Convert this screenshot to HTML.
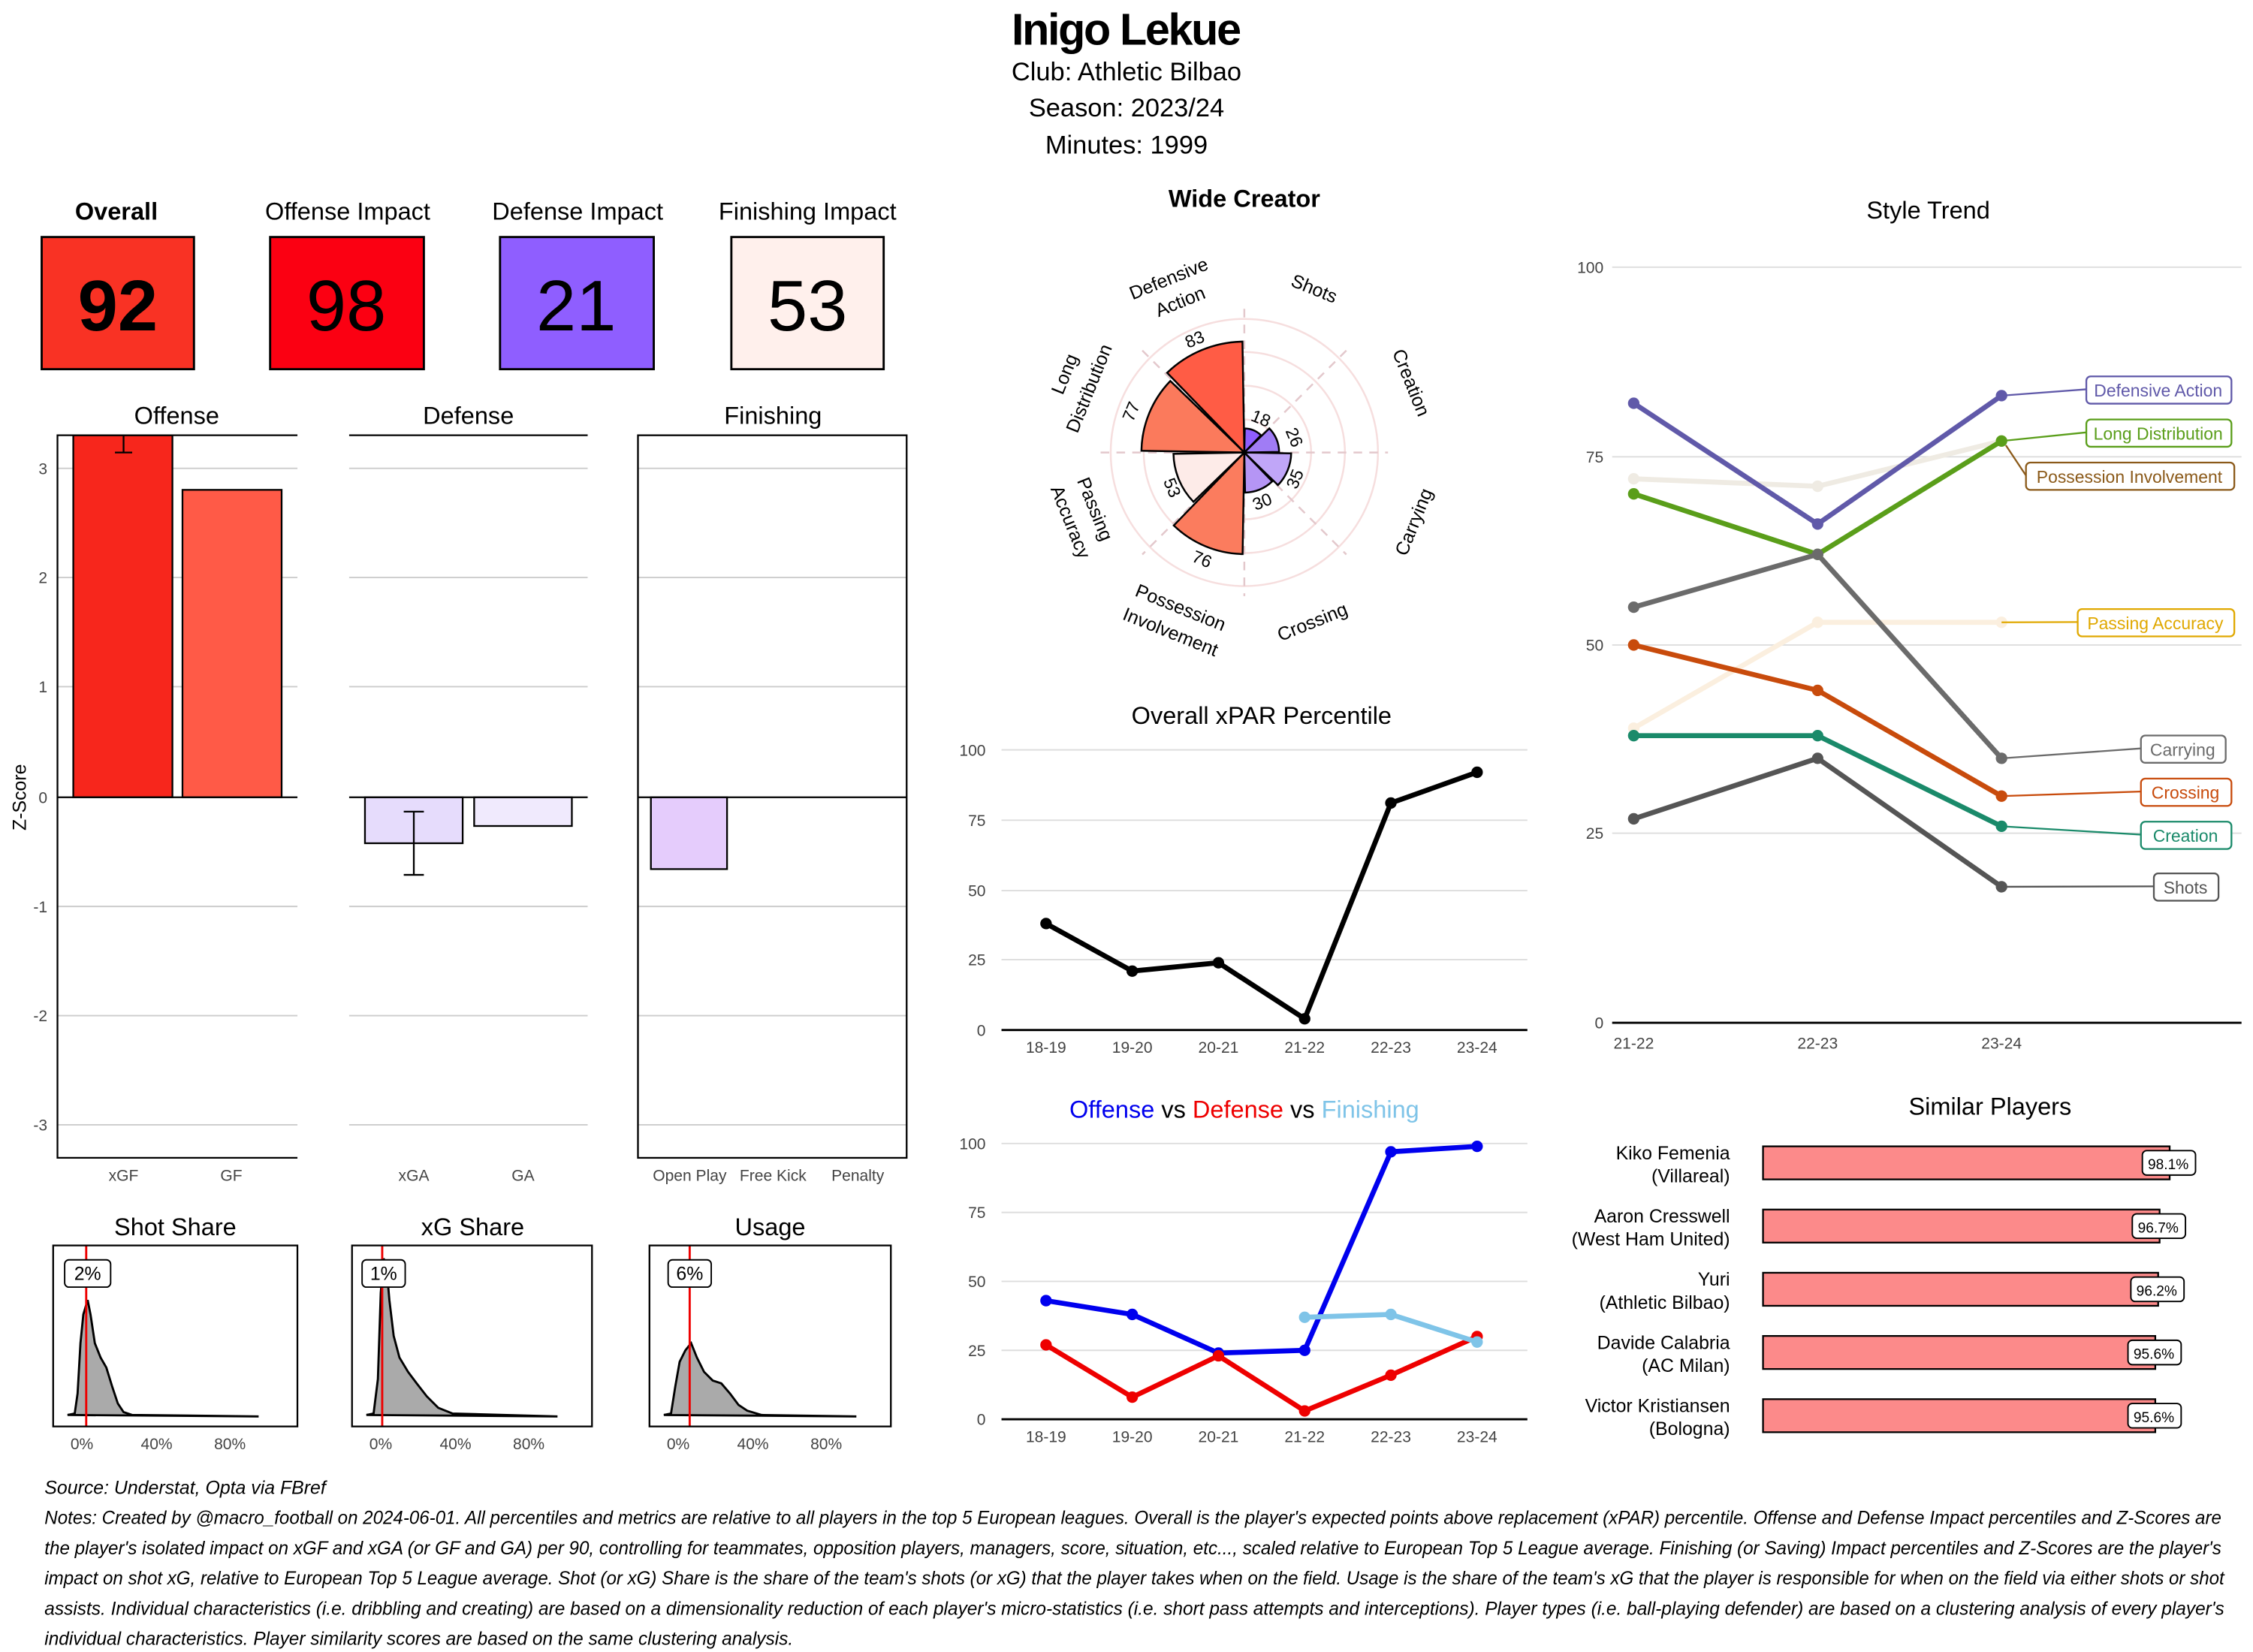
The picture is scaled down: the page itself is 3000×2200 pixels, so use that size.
<!DOCTYPE html>
<html><head><meta charset="utf-8"><style>
html,body{margin:0;padding:0;background:#fff;}
svg{display:block;}
text{font-family:"Liberation Sans",sans-serif;}
</style></head><body>
<svg width="3000" height="2200" viewBox="0 0 1568 1150" preserveAspectRatio="none" xmlns="http://www.w3.org/2000/svg">
<rect width="1568" height="1150" fill="#fff"/>
<!-- Title -->
<text x="784" y="31" text-anchor="middle" font-size="31" font-weight="bold" textLength="160">Inigo Lekue</text>
<text x="784" y="56" text-anchor="middle" font-size="18">Club:  Athletic Bilbao</text>
<text x="784" y="81" text-anchor="middle" font-size="18">Season:  2023/24</text>
<text x="784" y="107" text-anchor="middle" font-size="18">Minutes:  1999</text>

<!-- KPI -->
<g font-size="17" text-anchor="middle">
<text x="81" y="153" font-weight="bold">Overall</text>
<text x="242" y="153">Offense Impact</text>
<text x="402" y="153">Defense Impact</text>
<text x="562" y="153">Finishing Impact</text>
</g>
<rect x="29" y="165" width="106" height="92" fill="#f93224" stroke="#000" stroke-width="1.5"/>
<rect x="188" y="165" width="107" height="92" fill="#fb0012" stroke="#000" stroke-width="1.5"/>
<rect x="348" y="165" width="107" height="92" fill="#8f5eff" stroke="#000" stroke-width="1.5"/>
<rect x="509" y="165" width="106" height="92" fill="#fff0ec" stroke="#000" stroke-width="1.5"/>
<g font-size="50" text-anchor="middle">
<text x="82" y="230" font-weight="bold">92</text>
<text x="241" y="230">98</text>
<text x="401" y="230">21</text>
<text x="562" y="230">53</text>
</g>

<!-- Z-score panels -->
<g font-size="17" text-anchor="middle">
<text x="123" y="295">Offense</text>
<text x="326" y="295">Defense</text>
<text x="538" y="295">Finishing</text>
</g>
<g stroke="#ccc" stroke-width="1">
<line x1="40" x2="207" y1="326" y2="326"/><line x1="40" x2="207" y1="402" y2="402"/><line x1="40" x2="207" y1="478" y2="478"/><line x1="40" x2="207" y1="631" y2="631"/><line x1="40" x2="207" y1="707" y2="707"/><line x1="40" x2="207" y1="783" y2="783"/>
<line x1="243" x2="409" y1="326" y2="326"/><line x1="243" x2="409" y1="402" y2="402"/><line x1="243" x2="409" y1="478" y2="478"/><line x1="243" x2="409" y1="631" y2="631"/><line x1="243" x2="409" y1="707" y2="707"/><line x1="243" x2="409" y1="783" y2="783"/>
<line x1="444" x2="631" y1="326" y2="326"/><line x1="444" x2="631" y1="402" y2="402"/><line x1="444" x2="631" y1="478" y2="478"/><line x1="444" x2="631" y1="631" y2="631"/><line x1="444" x2="631" y1="707" y2="707"/><line x1="444" x2="631" y1="783" y2="783"/>
</g>
<g font-size="11" fill="#444" text-anchor="end">
<text x="33" y="330">3</text><text x="33" y="406">2</text><text x="33" y="482">1</text><text x="33" y="559">0</text><text x="33" y="635">-1</text><text x="33" y="711">-2</text><text x="33" y="787">-3</text>
</g>
<text transform="translate(18,555) rotate(-90)" font-size="13" text-anchor="middle">Z-Score</text>
<rect x="51" y="303" width="69" height="252" fill="#f7261c" stroke="#000" stroke-width="1.2"/>
<rect x="127" y="341" width="69" height="214" fill="#ff5a47" stroke="#000" stroke-width="1.2"/>
<path d="M86 303V315M80 315H92" stroke="#000" stroke-width="1.2"/>
<rect x="254" y="555" width="68" height="32" fill="#e6dcfc" stroke="#000" stroke-width="1.2"/>
<rect x="330" y="555" width="68" height="20" fill="#f0eafd" stroke="#000" stroke-width="1.2"/>
<path d="M288 565V609M281 565H295M281 609H295" stroke="#000" stroke-width="1.2"/>
<rect x="453" y="555" width="53" height="50" fill="#e5ccfc" stroke="#000" stroke-width="1.2"/>
<g stroke="#000" stroke-width="1.2" fill="none">
<line x1="40" x2="207" y1="555" y2="555"/><line x1="243" x2="409" y1="555" y2="555"/><line x1="444" x2="631" y1="555" y2="555"/>
<path d="M207 303H40V806H207"/>
<path d="M243 303H409"/>
<rect x="444" y="303" width="187" height="503"/>
</g>
<g font-size="11" fill="#444" text-anchor="middle">
<text x="86" y="822">xGF</text><text x="161" y="822">GF</text>
<text x="288" y="822">xGA</text><text x="364" y="822">GA</text>
<text x="480" y="822">Open Play</text><text x="538" y="822">Free Kick</text><text x="597" y="822">Penalty</text>
</g>

<!-- Distributions -->
<g font-size="17" text-anchor="middle">
<text x="122" y="860">Shot Share</text><text x="329" y="860">xG Share</text><text x="536" y="860">Usage</text>
</g>
<g fill="#aaa" stroke="#000" stroke-width="1.5">
<path d="M47,985 L52,984 L54,970 L56,935 L58,915 L61,905 L63,915 L66,935 L70,945 L74,952 L78,965 L82,977 L86,983 L92,985 L180,986 Z"/>
<path d="M255,985 L260,984 L263,960 L265,900 L267,876 L269,882 L271,905 L274,930 L278,945 L284,955 L290,963 L297,972 L305,980 L315,984 L388,986 Z"/>
<path d="M462,985 L467,984 L470,965 L473,948 L477,940 L481,935 L485,945 L490,955 L496,961 L502,963 L508,970 L514,978 L520,982 L530,985 L596,986 Z"/>
</g>
<g stroke="#e00" stroke-width="1.5">
<line x1="60" x2="60" y1="867" y2="993"/><line x1="266" x2="266" y1="867" y2="993"/><line x1="480" x2="480" y1="867" y2="993"/>
</g>
<g fill="none" stroke="#000" stroke-width="1.2">
<rect x="37" y="867" width="170" height="126"/><rect x="245" y="867" width="167" height="126"/><rect x="452" y="867" width="168" height="126"/>
</g>
<g fill="#fff" stroke="#000" stroke-width="1">
<rect x="45" y="877" width="32" height="19" rx="3"/><rect x="252" y="877" width="30" height="19" rx="3"/><rect x="465" y="877" width="30" height="19" rx="3"/>
</g>
<g font-size="13" text-anchor="middle">
<text x="61" y="891">2%</text><text x="267" y="891">1%</text><text x="480" y="891">6%</text>
</g>
<g font-size="11" fill="#444" text-anchor="middle">
<text x="57" y="1009">0%</text><text x="109" y="1009">40%</text><text x="160" y="1009">80%</text>
<text x="265" y="1009">0%</text><text x="317" y="1009">40%</text><text x="368" y="1009">80%</text>
<text x="472" y="1009">0%</text><text x="524" y="1009">40%</text><text x="575" y="1009">80%</text>
</g>

<!-- Polar -->
<text x="866" y="144" text-anchor="middle" font-size="17" font-weight="bold">Wide Creator</text>
<g fill="none" stroke="#f6dede" stroke-width="1.3">
<circle cx="866" cy="315" r="23"/><circle cx="866" cy="315" r="46.5"/><circle cx="866" cy="315" r="70"/><circle cx="866" cy="315" r="93"/>
</g>
<g stroke="#e3c8cc" stroke-width="1.3" stroke-dasharray="6,5">
<line x1="866" y1="215" x2="866" y2="415"/><line x1="766" y1="315" x2="966" y2="315"/>
<line x1="795" y1="244" x2="937" y2="386"/><line x1="937" y1="244" x2="795" y2="386"/>
</g>
<g stroke="#000" stroke-width="1.3">
<path d="M866 315L866.3 298.3A16.7 16.7 0 0 1 877.6 303Z" fill="#8f5eff"/>
<path d="M866 315L883.4 298.2A24.2 24.2 0 0 1 890.2 314.6Z" fill="#a07cf5"/>
<path d="M866 315L898.6 315.6A32.6 32.6 0 0 1 889.4 337.7Z" fill="#c0a6f8"/>
<path d="M866 315L885.4 335.1A27.9 27.9 0 0 1 866.5 342.9Z" fill="#b595f5"/>
<path d="M866 315L864.8 385.7A70.7 70.7 0 0 1 816.9 365.8Z" fill="#fb7c5e"/>
<path d="M866 315L830.6 349.3A49.3 49.3 0 0 1 816.7 315.9Z" fill="#fdebe8"/>
<path d="M866 315L794.4 313.8A71.6 71.6 0 0 1 814.5 265.2Z" fill="#fb7a5c"/>
<path d="M866 315L812.3 259.5A77.2 77.2 0 0 1 864.7 237.8Z" fill="#ff5c45"/>
</g>
<g font-size="12" text-anchor="middle">
<text transform="translate(876,295) rotate(22.5)">18</text>
<text transform="translate(897,306) rotate(67.5)">26</text>
<text transform="translate(905,335) rotate(-67.5)">35</text>
<text transform="translate(880,353) rotate(-22.5)">30</text>
<text transform="translate(835,393) rotate(22.5)">76</text>
<text transform="translate(812,341) rotate(67.5)">53</text>
<text transform="translate(791,288) rotate(-67.5)">77</text>
<text transform="translate(833,240) rotate(-22.5)">83</text>
</g>
<g font-size="13" text-anchor="middle">
<text transform="translate(815,198) rotate(-22)">Defensive</text>
<text transform="translate(823,214) rotate(-22)">Action</text>
<text transform="translate(913,205) rotate(22)">Shots</text>
<text transform="translate(978,268) rotate(68)">Creation</text>
<text transform="translate(988,365) rotate(-68)">Carrying</text>
<text transform="translate(915,437) rotate(-22)">Crossing</text>
<text transform="translate(820,427) rotate(22)">Possession</text>
<text transform="translate(813,444) rotate(22)">Involvement</text>
<text transform="translate(758,356) rotate(68)">Passing</text>
<text transform="translate(741,365) rotate(68)">Accuracy</text>
<text transform="translate(745,262) rotate(-68)">Long</text>
<text transform="translate(762,272) rotate(-68)">Distribution</text>
</g>

<!-- Overall xPAR -->
<text x="878" y="504" text-anchor="middle" font-size="17">Overall xPAR Percentile</text>
<g stroke="#ddd"><line x1="697" x2="1063" y1="522" y2="522"/><line x1="697" x2="1063" y1="571" y2="571"/><line x1="697" x2="1063" y1="620" y2="620"/><line x1="697" x2="1063" y1="668" y2="668"/></g>
<line x1="697" x2="1063" y1="717" y2="717" stroke="#000" stroke-width="1.5"/>
<g font-size="11" fill="#444" text-anchor="end"><text x="686" y="526">100</text><text x="686" y="575">75</text><text x="686" y="624">50</text><text x="686" y="672">25</text><text x="686" y="721">0</text></g>
<g font-size="11" fill="#444" text-anchor="middle"><text x="728" y="733">18-19</text><text x="788" y="733">19-20</text><text x="848" y="733">20-21</text><text x="908" y="733">21-22</text><text x="968" y="733">22-23</text><text x="1028" y="733">23-24</text></g>
<polyline points="728,642.9 788,676 848,670.2 908,709.2 968,559 1028,537.6" fill="none" stroke="#000" stroke-width="3.5"/>
<g fill="#000"><circle cx="728" cy="642.9" r="4"/><circle cx="788" cy="676" r="4"/><circle cx="848" cy="670.2" r="4"/><circle cx="908" cy="709.2" r="4"/><circle cx="968" cy="559" r="4"/><circle cx="1028" cy="537.6" r="4"/></g>

<!-- Offense vs Defense -->
<text x="866" y="778" text-anchor="middle" font-size="17"><tspan fill="#0000ee">Offense</tspan><tspan>  vs  </tspan><tspan fill="#ee0000">Defense</tspan><tspan>  vs  </tspan><tspan fill="#7fc4e8">Finishing</tspan></text>
<g stroke="#ddd"><line x1="697" x2="1063" y1="796" y2="796"/><line x1="697" x2="1063" y1="844" y2="844"/><line x1="697" x2="1063" y1="892" y2="892"/><line x1="697" x2="1063" y1="940" y2="940"/></g>
<line x1="697" x2="1063" y1="988" y2="988" stroke="#000" stroke-width="1.5"/>
<g font-size="11" fill="#444" text-anchor="end"><text x="686" y="800">100</text><text x="686" y="848">75</text><text x="686" y="896">50</text><text x="686" y="944">25</text><text x="686" y="992">0</text></g>
<g font-size="11" fill="#444" text-anchor="middle"><text x="728" y="1004">18-19</text><text x="788" y="1004">19-20</text><text x="848" y="1004">20-21</text><text x="908" y="1004">21-22</text><text x="968" y="1004">22-23</text><text x="1028" y="1004">23-24</text></g>
<polyline points="728,905.4 788,915 848,941.9 908,940 968,801.8 1028,798" fill="none" stroke="#0000ee" stroke-width="3.5"/>
<g fill="#0000ee"><circle cx="728" cy="905.4" r="4"/><circle cx="788" cy="915" r="4"/><circle cx="848" cy="941.9" r="4"/><circle cx="908" cy="940" r="4"/><circle cx="968" cy="801.8" r="4"/><circle cx="1028" cy="798" r="4"/></g>
<polyline points="728,936.2 788,972.6 848,943.8 908,982.2 968,957.3 1028,930.4" fill="none" stroke="#ee0000" stroke-width="3.5"/>
<g fill="#ee0000"><circle cx="728" cy="936.2" r="4"/><circle cx="788" cy="972.6" r="4"/><circle cx="848" cy="943.8" r="4"/><circle cx="908" cy="982.2" r="4"/><circle cx="968" cy="957.3" r="4"/><circle cx="1028" cy="930.4" r="4"/></g>
<polyline points="908,917 968,915 1028,934.2" fill="none" stroke="#7fc4e8" stroke-width="3.5"/>
<g fill="#7fc4e8"><circle cx="908" cy="917" r="4"/><circle cx="968" cy="915" r="4"/><circle cx="1028" cy="934.2" r="4"/></g>

<!-- Style Trend -->
<text x="1342" y="152" text-anchor="middle" font-size="17">Style Trend</text>
<g stroke="#ddd"><line x1="1122" x2="1560" y1="186" y2="186"/><line x1="1122" x2="1560" y1="318" y2="318"/><line x1="1122" x2="1560" y1="449" y2="449"/><line x1="1122" x2="1560" y1="580" y2="580"/></g>
<line x1="1122" x2="1560" y1="712" y2="712" stroke="#000" stroke-width="1.5"/>
<g font-size="11" fill="#444" text-anchor="end"><text x="1116" y="190">100</text><text x="1116" y="322">75</text><text x="1116" y="453">50</text><text x="1116" y="584">25</text><text x="1116" y="716">0</text></g>
<g font-size="11" fill="#444" text-anchor="middle"><text x="1137" y="730">21-22</text><text x="1265" y="730">22-23</text><text x="1393" y="730">23-24</text></g>
<g fill="none" stroke-width="3.5">
<polyline points="1137,333.3 1265,338.5 1393,307" stroke="#efebe3"/>
<polyline points="1137,506.9 1265,433.2 1393,433.2" stroke="#fbefdf"/>
<polyline points="1137,280.7 1265,364.8 1393,275.4" stroke="#6059a9"/>
<polyline points="1137,343.8 1265,385.9 1393,307" stroke="#5a9e1a"/>
<polyline points="1137,422.7 1265,385.9 1393,527.9" stroke="#6b6b6b"/>
<polyline points="1137,449 1265,480.6 1393,554.2" stroke="#c84b0c"/>
<polyline points="1137,512.1 1265,512.1 1393,575.2" stroke="#1a8a6a"/>
<polyline points="1137,570 1265,527.9 1393,617.3" stroke="#555"/>
</g>
<g>
<g fill="#efebe3"><circle cx="1137" cy="333.3" r="4"/><circle cx="1265" cy="338.5" r="4"/></g>
<g fill="#fbefdf"><circle cx="1137" cy="506.9" r="4"/><circle cx="1265" cy="433.2" r="4"/><circle cx="1393" cy="433.2" r="4"/></g>
<g fill="#6059a9"><circle cx="1137" cy="280.7" r="4"/><circle cx="1265" cy="364.8" r="4"/><circle cx="1393" cy="275.4" r="4"/></g>
<g fill="#5a9e1a"><circle cx="1137" cy="343.8" r="4"/><circle cx="1265" cy="385.9" r="4"/><circle cx="1393" cy="307" r="4"/></g>
<g fill="#6b6b6b"><circle cx="1137" cy="422.7" r="4"/><circle cx="1265" cy="385.9" r="4"/><circle cx="1393" cy="527.9" r="4"/></g>
<g fill="#c84b0c"><circle cx="1137" cy="449" r="4"/><circle cx="1265" cy="480.6" r="4"/><circle cx="1393" cy="554.2" r="4"/></g>
<g fill="#1a8a6a"><circle cx="1137" cy="512.1" r="4"/><circle cx="1265" cy="512.1" r="4"/><circle cx="1393" cy="575.2" r="4"/></g>
<g fill="#555"><circle cx="1137" cy="570" r="4"/><circle cx="1265" cy="527.9" r="4"/><circle cx="1393" cy="617.3" r="4"/></g>
</g>
<g stroke-width="1.2" fill="none">
<line x1="1393" y1="275.4" x2="1452" y2="271" stroke="#6059a9"/>
<line x1="1393" y1="307" x2="1452" y2="301" stroke="#5a9e1a"/>
<line x1="1396" y1="310" x2="1410" y2="331" stroke="#8b5a1a"/>
<line x1="1393" y1="433.2" x2="1446" y2="433" stroke="#e0a800"/>
<line x1="1393" y1="527.9" x2="1490" y2="521" stroke="#6b6b6b"/>
<line x1="1393" y1="554.2" x2="1490" y2="551" stroke="#c84b0c"/>
<line x1="1393" y1="575.2" x2="1490" y2="581" stroke="#1a8a6a"/>
<line x1="1393" y1="617.3" x2="1499" y2="617" stroke="#555"/>
</g>
<g fill="#fff" stroke-width="1.2">
<rect x="1452" y="262" width="101" height="19" rx="3" stroke="#6059a9"/>
<rect x="1452" y="292" width="101" height="19" rx="3" stroke="#5a9e1a"/>
<rect x="1410" y="322" width="145" height="19" rx="3" stroke="#8b5a1a"/>
<rect x="1446" y="424" width="109" height="19" rx="3" stroke="#e0a800"/>
<rect x="1490" y="512" width="59" height="19" rx="3" stroke="#6b6b6b"/>
<rect x="1490" y="542" width="63" height="19" rx="3" stroke="#c84b0c"/>
<rect x="1490" y="572" width="63" height="19" rx="3" stroke="#1a8a6a"/>
<rect x="1499" y="608" width="45" height="19" rx="3" stroke="#555"/>
</g>
<g font-size="12" text-anchor="middle">
<text x="1502" y="276" fill="#6059a9">Defensive Action</text>
<text x="1502" y="306" fill="#5a9e1a">Long Distribution</text>
<text x="1482" y="336" fill="#8b5a1a">Possession Involvement</text>
<text x="1500" y="438" fill="#e0a800">Passing Accuracy</text>
<text x="1519" y="526" fill="#6b6b6b">Carrying</text>
<text x="1521" y="556" fill="#c84b0c">Crossing</text>
<text x="1521" y="586" fill="#1a8a6a">Creation</text>
<text x="1521" y="622" fill="#555">Shots</text>
</g>

<!-- Similar players -->
<text x="1385" y="776" text-anchor="middle" font-size="17">Similar Players</text>
<g fill="#fc8a8a" stroke="#000" stroke-width="1.2">
<rect x="1227" y="798" width="283" height="23"/>
<rect x="1227" y="842" width="276" height="23"/>
<rect x="1227" y="886" width="275" height="23"/>
<rect x="1227" y="930" width="273" height="23"/>
<rect x="1227" y="974" width="273" height="23"/>
</g>
<g fill="#fff" stroke="#000" stroke-width="1">
<rect x="1491" y="801" width="37" height="17" rx="3"/>
<rect x="1484" y="845" width="37" height="17" rx="3"/>
<rect x="1483" y="889" width="37" height="17" rx="3"/>
<rect x="1481" y="933" width="37" height="17" rx="3"/>
<rect x="1481" y="977" width="37" height="17" rx="3"/>
</g>
<g font-size="10" text-anchor="middle">
<text x="1509" y="814">98.1%</text><text x="1502" y="858">96.7%</text><text x="1501" y="902">96.2%</text><text x="1499" y="946">95.6%</text><text x="1499" y="990">95.6%</text>
</g>
<g font-size="13" text-anchor="end">
<text x="1204" y="807">Kiko Femenia</text><text x="1204" y="823">(Villareal)</text>
<text x="1204" y="851">Aaron Cresswell</text><text x="1204" y="867">(West Ham United)</text>
<text x="1204" y="895">Yuri</text><text x="1204" y="911">(Athletic Bilbao)</text>
<text x="1204" y="939">Davide Calabria</text><text x="1204" y="955">(AC Milan)</text>
<text x="1204" y="983">Victor Kristiansen</text><text x="1204" y="999">(Bologna)</text>
</g>

<!-- Footer -->
<g font-size="13" font-style="italic">
<text x="31" y="1040">Source: Understat, Opta via FBref</text>
<text x="31" y="1061" textLength="1515" lengthAdjust="spacingAndGlyphs">Notes: Created by @macro_football on 2024-06-01. All percentiles and metrics are relative to all players in the top 5 European leagues. Overall is the player's expected points above replacement (xPAR) percentile. Offense and Defense Impact percentiles and Z-Scores are</text>
<text x="31" y="1082" textLength="1515" lengthAdjust="spacingAndGlyphs">the player's isolated impact on xGF and xGA (or GF and GA) per 90, controlling for teammates, opposition players, managers, score, situation, etc..., scaled relative to European Top 5 League average. Finishing (or Saving) Impact percentiles and Z-Scores are the player's</text>
<text x="31" y="1103" textLength="1517" lengthAdjust="spacingAndGlyphs">impact on shot xG, relative to European Top 5 League average. Shot (or xG) Share is the share of the team's shots (or xG) that the player takes when on the field. Usage is the share of the team's xG that the player is responsible for when on the field via either shots or shot</text>
<text x="31" y="1124" textLength="1517" lengthAdjust="spacingAndGlyphs">assists. Individual characteristics (i.e. dribbling and creating) are based on a dimensionality reduction of each player's micro-statistics (i.e. short pass attempts and interceptions). Player types (i.e. ball-playing defender) are based on a clustering analysis of every player's</text>
<text x="31" y="1145" textLength="521" lengthAdjust="spacingAndGlyphs">individual characteristics. Player similarity scores are based on the same clustering analysis.</text>
</g>
</svg>
</body></html>
